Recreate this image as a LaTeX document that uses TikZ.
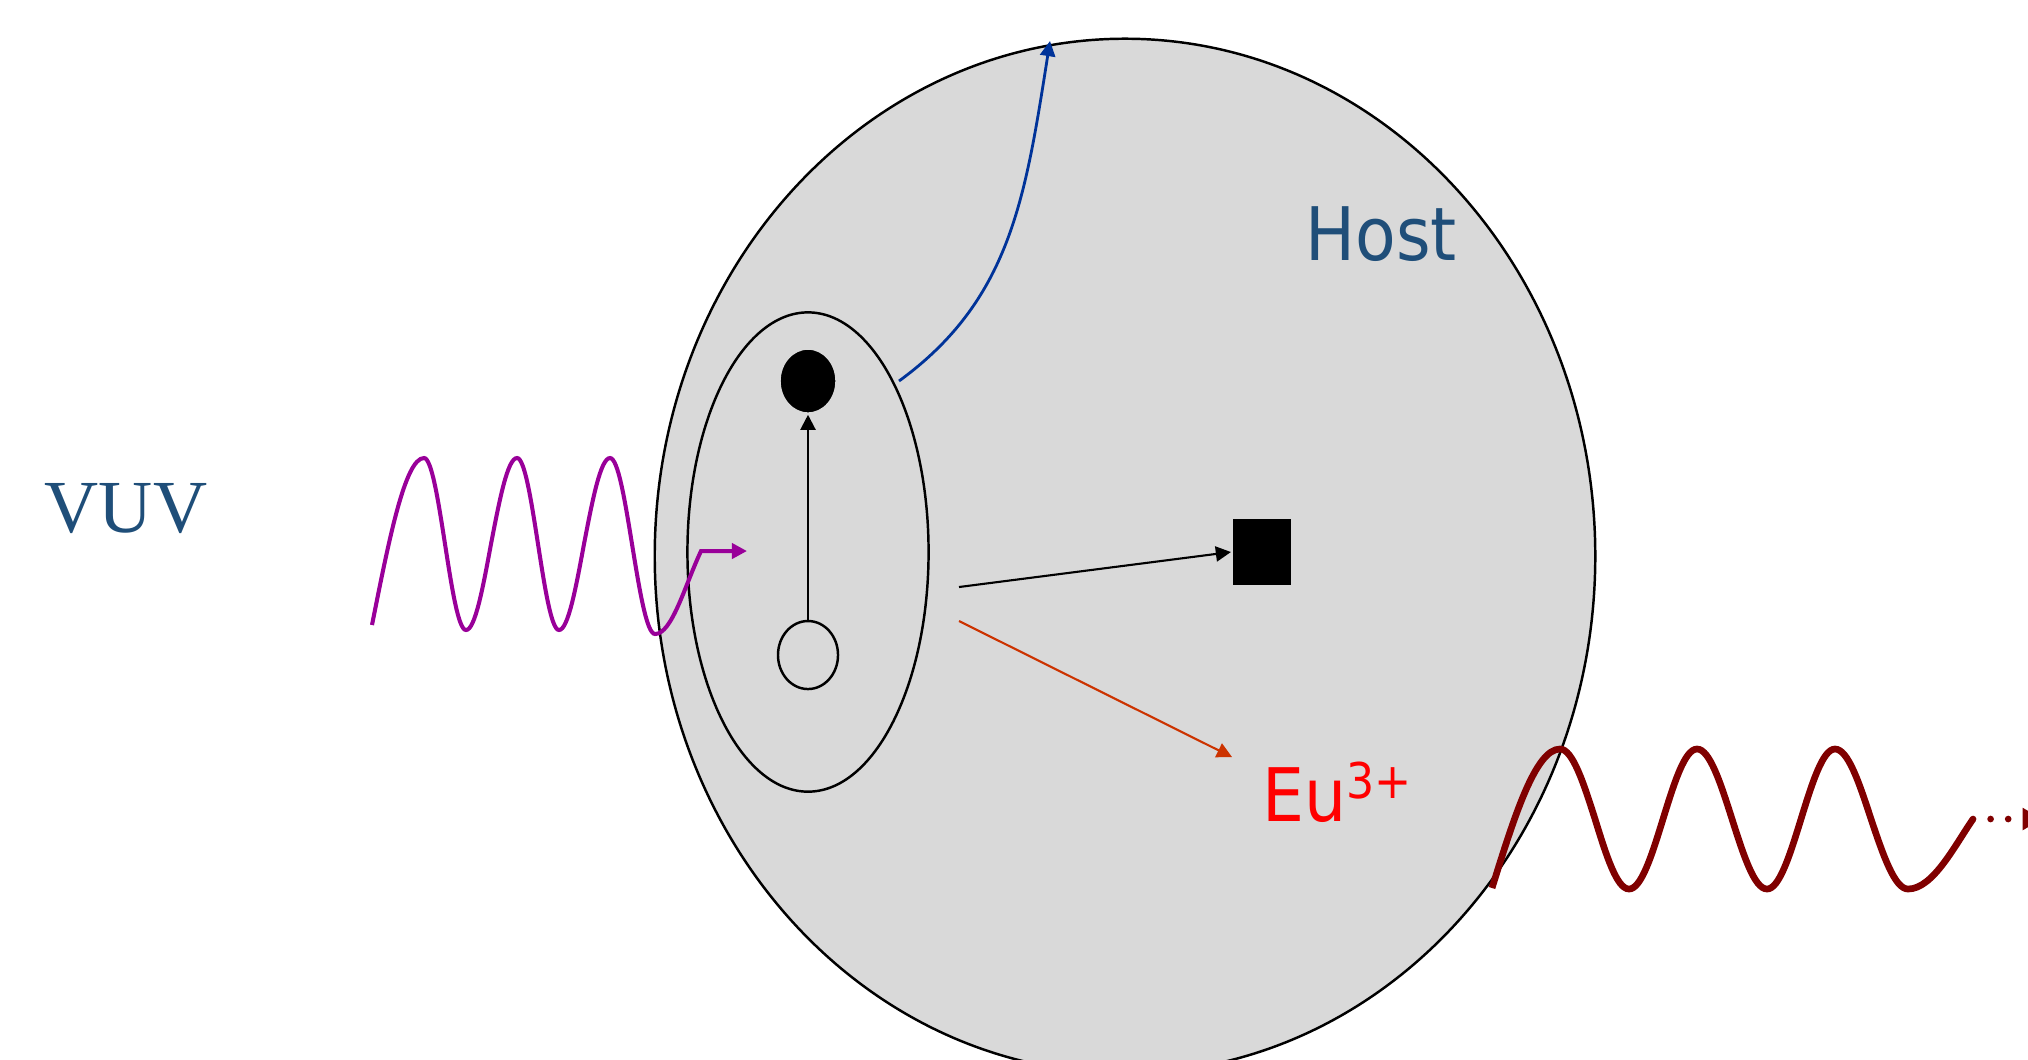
\documentclass[tikz,border=0pt]{standalone}
\usepackage{fontspec}
\setmainfont{DejaVu Sans Condensed}
\newfontfamily\vuvfont{Liberation Serif}
\usetikzlibrary{arrows.meta,shapes.geometric}
\definecolor{hostgray}{RGB}{217,217,217}
\definecolor{labelblue}{RGB}{31,78,121}
\definecolor{vuvpurple}{RGB}{153,0,153}
\definecolor{emitred}{RGB}{128,0,0}
\definecolor{escblue}{RGB}{0,51,153}
\definecolor{relaxorange}{RGB}{204,51,0}

\begin{document}
\begin{tikzpicture}[x=0.01cm, y=-0.01cm,
    state/.style={ellipse, draw, line width=0.7pt, inner sep=0pt},
    filled/.style={fill=black, draw=white!85!black},
    smalltip/.style={-{Triangle[length=4.3pt,width=4.3pt]}},
    connector/.style={line width=0.6pt, smalltip},
    label/.style={text=labelblue, anchor=base, inner sep=0pt}]
  \useasboundingbox (0,0) rectangle (2028,1059);

  \node [state, fill=hostgray, minimum width=9.4cm, minimum height=10.34cm] (host) at (1125,556) {};
  \node [state, minimum width=2.41cm, minimum height=4.79cm] (site) at (808,552) {};
  \node [state, filled, minimum width=0.57cm, minimum height=0.65cm] (excited) at (808,381) {};
  \node [state, minimum width=0.6cm, minimum height=0.68cm] (ground) at (808,655) {};
  \node [rectangle, filled, line width=0.6pt, inner sep=0pt,
         minimum width=0.6cm, minimum height=0.69cm] (trap) at (1262,552) {};

  \node [label, font=\vuvfont\fontsize{21.3}{24}\selectfont] (vuv) at (126,532) {VUV};
  \node [label, font=\fontsize{21}{24}\selectfont] (hostlabel) at (1381,260) {Host};
  \node [label, text=red, anchor=base west, font=\fontsize{21}{24}\selectfont] (eu) at (1262,821)
    {Eu\raisebox{6.5pt}{\fontsize{14}{14}\selectfont 3+}};

  \coordinate (escape) at (899,381);
  \coordinate (surface) at (1050,41);
  \coordinate (emit) at (959,587);
  \coordinate (relax) at (959,621);
  \coordinate (eutip) at (1232,757);
  \coordinate (vuvstart) at (372,625);
  \coordinate (inject) at (747,551);
  \coordinate (redstart) at (1492,888);
  \coordinate (dots) at (1973,819);
  \coordinate (offpage) at (2042,819);

  \draw [connector] (ground) -- (excited);
  \draw [connector] (emit) -- (trap.west);
  \draw [connector, relaxorange] (relax) -- (eutip);
  \draw [connector, escblue, line width=0.8pt] (escape) .. controls (1010,300) and (1025,200) .. (surface);

  \draw [vuvpurple, line width=1.15pt, smalltip] (vuvstart)
    sin (424,458) cos (445,544) sin (466,630) cos (491,544)
    sin (517,458) cos (538,544) sin (559,630) cos (584,544)
    sin (610,458) cos (632,544) sin (655,634)
    .. controls (672,634) and (685,585) .. (701,551) -- (inject);

  \draw [emitred, line width=1.9pt] (redstart)
    sin (1560,749) cos (1595,819) sin (1629,889) cos (1663,819)
    sin (1697,749) cos (1732,819) sin (1767,889) cos (1801,819)
    sin (1835,749) cos (1871,819) sin (1908,889)
    .. controls (1933,889) and (1955,845) .. (dots);
  \draw [emitred, line width=1.9pt, line cap=round, dash pattern=on 0pt off 5pt,
         -{Triangle[length=5.5pt,width=6pt]}] (dots) -- (offpage);
\end{tikzpicture}
\end{document}
